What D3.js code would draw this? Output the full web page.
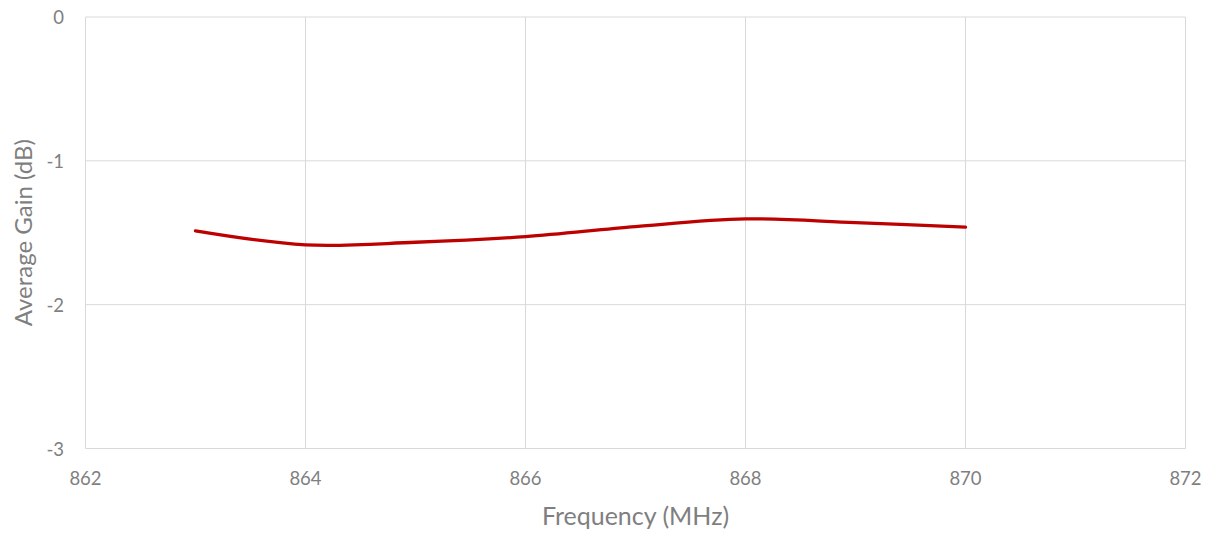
<!DOCTYPE html>
<html><head><meta charset="utf-8">
<script src="https://cdn.jsdelivr.net/npm/d3@7"></script>
<style>body{margin:0;background:#fff}svg{display:block}text{font-family:Lato,"Open Sans",sans-serif;fill:#7f7f7f}</style>
</head><body><svg id="c" width="1211" height="538"></svg>
<script>
const freq = [863, 864, 865, 866, 867, 868, 869, 870];
const gain = [-1.487, -1.584, -1.566, -1.527, -1.457, -1.404, -1.43, -1.461];
const xTicks = [862, 864, 866, 868, 870, 872];
const yTicks = [0, -1, -2, -3];
const svg = d3.select("#c");
const m = {l:85.5, r:1185.5, t:17, b:448.5};
const x = d3.scaleLinear().domain([862, 872]).range([m.l, m.r]);
const y = d3.scaleLinear().domain([-3, 0]).range([m.b, m.t]);
const g = svg.append("g");
g.selectAll(".vx").data(xTicks).join("line").attr("x1",d=>x(d)).attr("x2",d=>x(d)).attr("y1",m.t).attr("y2",m.b).attr("stroke","#d9d9d9").attr("stroke-width",1);
g.selectAll(".hy").data(yTicks).join("line").attr("x1",m.l).attr("x2",m.r).attr("y1",d=>y(d)).attr("y2",d=>y(d)).attr("stroke","#d9d9d9").attr("stroke-width",1);
g.selectAll(".xt").data(xTicks).join("text").attr("x",d=>x(d)).attr("y",485).attr("text-anchor","middle").attr("font-size",18.5).text(d=>d);
g.selectAll(".yt").data(yTicks).join("text").attr("x",64).attr("y",d=>y(d)+7).attr("text-anchor","end").attr("font-size",18.5).text(d=>d);
const line = d3.line().x((d,i)=>x(freq[i])).y(d=>y(d)).curve(d3.curveCatmullRom.alpha(0.5));
svg.append("path").attr("d",line(gain)).attr("fill","none").attr("stroke","#BD0000").attr("stroke-width",3.3).attr("stroke-linecap","round");
svg.append("text").attr("x",(m.l+m.r)/2).attr("y",525).attr("text-anchor","middle").attr("font-size",25).text("Frequency (MHz)");
svg.append("text").attr("transform",`translate(32,${(m.t+m.b)/2}) rotate(-90)`).attr("text-anchor","middle").attr("font-size",24).text("Average Gain (dB)");
</script></body></html>
